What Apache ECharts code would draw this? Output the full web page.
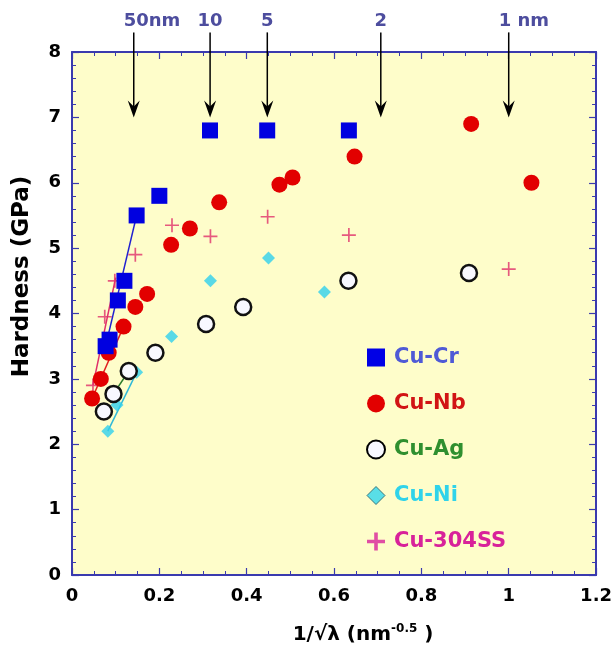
<!DOCTYPE html>
<html>
<head>
<meta charset="utf-8">
<script src="https://cdn.jsdelivr.net/npm/echarts@6/dist/echarts.min.js"></script>
<style>
html,body{margin:0;padding:0;background:#fff;}
#c{width:615px;height:652px;}
</style>
</head>
<body>
<div id="c"></div>
<script>
// ---- data ----
const cuCr = [[0.077,3.5],[0.086,3.6],[0.105,4.2],[0.12,4.5],[0.148,5.5],[0.2,5.8],[0.316,6.8],[0.447,6.8],[0.634,6.8]];
const cuNb = [[0.046,2.7],[0.066,3.0],[0.084,3.4],[0.118,3.8],[0.145,4.1],[0.172,4.3],[0.227,5.05],[0.27,5.3],[0.337,5.7],[0.475,5.97],[0.505,6.08],[0.647,6.4],[0.914,6.9],[1.052,6.0]];
const cuAg = [[0.073,2.5],[0.095,2.77],[0.13,3.12],[0.191,3.4],[0.307,3.84],[0.392,4.1],[0.633,4.5],[0.909,4.62]];
const cuNi = [[0.082,2.2],[0.103,2.6],[0.148,3.1],[0.228,3.65],[0.317,4.5],[0.45,4.85],[0.578,4.33]];
const cu304 = [[0.048,2.9],[0.075,3.95],[0.098,4.5],[0.145,4.9],[0.229,5.35],[0.317,5.18],[0.448,5.48],[0.634,5.2],[1.0,4.68]];
const crFit = [[0.077,3.5],[0.148,5.5]];
const nbFit = [[0.046,2.7],[0.118,3.8]];
const agFit = [[0.095,2.77],[0.13,3.12]];
const niFit = [[0.082,2.2],[0.148,3.1]];
const ssFit = [[0.048,2.9],[0.1,4.55]];
const arrowX = [0.1414, 0.3162, 0.4472, 0.7071, 1.0];
const arrowLabels = ['50nm', '10', '5', '2', '1 nm'];
const seriesNames = ['Cu-Cr', 'Cu-Nb', 'Cu-Ag', 'Cu-Ni', 'Cu-304SS'];

const axisColor = '#3a3aae';
const FONT = '"DejaVu Sans", Verdana, sans-serif';
const plusPath = 'path://M4.4,0h1.2v10h-1.2z M0,4.4h10v1.2h-10z';
const plusPathBold = 'path://M4,0h2v10h-2z M0,4h10v2h-10z';

function axisCommon(pos, showLabel, minorSplit) {
  return {
    type: 'value', position: pos,
    axisLine: {show: true, onZero: false, lineStyle: {color: axisColor, width: 2}},
    axisTick: {show: true, inside: true, length: 7, lineStyle: {color: axisColor, width: 1.2}},
    minorTick: {show: true, splitNumber: minorSplit, length: 4, lineStyle: {color: axisColor, width: 1}},
    splitLine: {show: false},
    axisLabel: {show: showLabel, color: '#000', fontFamily: FONT, fontWeight: 'bold', fontSize: 18}
  };
}

const chart = echarts.init(document.getElementById('c'), null, {renderer: 'canvas'});

const arrowSeries = {
  type: 'custom', xAxisIndex: 0, yAxisIndex: 0, clip: false, silent: true, z: 10,
  data: arrowX.map((x, i) => [x, i]),
  renderItem: function (params, api) {
    const x = api.value(0);
    const idx = api.value(1);
    const top = api.coord([x, 8.3]);
    const tip = api.coord([x, 7.0]);
    const txt = api.coord([x, 8.47]);
    const lbl = arrowLabels[idx];
    const isNm = lbl.indexOf('nm') >= 0;
    return {
      type: 'group',
      children: [
        {type: 'line', shape: {x1: top[0], y1: top[1], x2: tip[0], y2: tip[1] - 8},
         style: {stroke: '#000', lineWidth: 1.5}},
        {type: 'polygon', shape: {points: [[tip[0], tip[1]], [tip[0] - 6, tip[1] - 17], [tip[0], tip[1] - 11], [tip[0] + 6, tip[1] - 17]]},
         style: {fill: '#000'}},
        {type: 'text', x: isNm ? txt[0] - 10 : txt[0], y: txt[1],
         style: {text: lbl, fill: '#4d4d9e', font: 'bold 18px ' + FONT,
                 textAlign: isNm ? 'left' : 'center', textVerticalAlign: 'middle'}}
      ]
    };
  }
};

function fitLine(data, color) {
  return {type: 'line', data: data, symbol: 'none', silent: true, z: 1,
          lineStyle: {color: color, width: 1.5}, legendHoverLink: false};
}

const option = {
  backgroundColor: '#fff',
  animation: false,
  grid: {left: 72, right: 15, top: 52, bottom: 74, show: true, backgroundColor: '#fefdca', borderWidth: 0},
  legend: {
    orient: 'vertical', left: 366, top: 347, padding: 0, itemWidth: 18, itemHeight: 18, itemGap: 25,
    selectedMode: false,
    textStyle: {fontFamily: FONT, fontWeight: 'bold', fontSize: 21, lineHeight: 20, padding: [0, 0, 0, 4]},
    data: [
      {name: 'Cu-Cr', icon: 'rect', itemStyle: {color: '#0000e6'}, textStyle: {color: '#4f5ad6'}},
      {name: 'Cu-Nb', icon: 'circle', itemStyle: {color: '#e20000'}, textStyle: {color: '#d11414'}},
      {name: 'Cu-Ag', icon: 'circle', itemStyle: {color: '#f8f8ff', borderColor: '#000', borderWidth: 2}, textStyle: {color: '#2f8f2f'}},
      {name: 'Cu-Ni', icon: 'diamond', itemStyle: {color: '#30d6ee', borderColor: '#205a66', borderWidth: 1}, textStyle: {color: '#30d3ea'}},
      {name: 'Cu-304SS', icon: plusPathBold, itemStyle: {color: '#d8229a'}, textStyle: {color: '#d8229a'}}
    ]
  },
  xAxis: [
    Object.assign(axisCommon('bottom', true, 4), {
      min: 0, max: 1.2, interval: 0.2,
      axisLabel: {show: true, color: '#000', fontFamily: FONT, fontWeight: 'bold', fontSize: 18, margin: 12},
      name: '1/√λ (nm{sup|-0.5} )', nameLocation: 'middle', nameGap: 48,
      nameTextStyle: {color: '#000', fontFamily: FONT, fontWeight: 'bold', fontSize: 20, lineHeight: 24, padding: [0, 0, 0, 58],
        rich: {sup: {fontFamily: FONT, fontWeight: 'bold', fontSize: 12, verticalAlign: 'top', lineHeight: 14}}}
    }),
    Object.assign(axisCommon('top', false, 4), {min: 0, max: 1.2, interval: 0.2})
  ],
  yAxis: [
    Object.assign(axisCommon('left', true, 5), {
      min: 0, max: 8, interval: 1,
      axisLabel: {show: true, color: '#000', fontFamily: FONT, fontWeight: 'bold', fontSize: 18, margin: 11},
      name: 'Hardness (GPa)', nameLocation: 'middle', nameGap: 38,
      nameTextStyle: {color: '#000', fontFamily: FONT, fontWeight: 'bold', fontSize: 23, padding: [0, 0, 0, 74]}
    }),
    Object.assign(axisCommon('right', false, 5), {min: 0, max: 8, interval: 1})
  ],
  series: [
    fitLine(crFit, '#2020d0'),
    fitLine(nbFit, '#e02020'),
    fitLine(agFit, '#2a7a2a'),
    fitLine(niFit, '#30b8d8'),
    fitLine(ssFit, '#e0306a'),
    {name: 'Cu-304SS', type: 'scatter', data: cu304, symbol: plusPath, symbolSize: 14,
     itemStyle: {color: '#e0306a'}, z: 3},
    {name: 'Cu-Ni', type: 'scatter', data: cuNi, symbol: 'diamond', symbolSize: 13,
     itemStyle: {color: '#30d0ec'}, z: 3},
    {name: 'Cu-Ag', type: 'scatter', data: cuAg, symbol: 'circle', symbolSize: 16,
     itemStyle: {color: '#f8f8ff', borderColor: '#111', borderWidth: 2.5, opacity: 1}, z: 4},
    {name: 'Cu-Nb', type: 'scatter', data: cuNb, symbol: 'circle', symbolSize: 16,
     itemStyle: {color: '#e20000', opacity: 1}, z: 4},
    {name: 'Cu-Cr', type: 'scatter', data: cuCr, symbol: 'rect', symbolSize: 16,
     itemStyle: {color: '#0000e0', opacity: 1}, z: 5},
    arrowSeries
  ]
};
chart.setOption(option);
</script>
</body>
</html>
